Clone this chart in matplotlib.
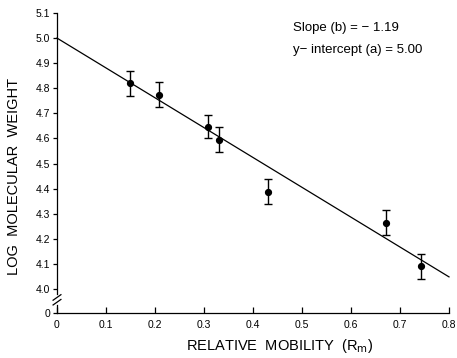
import matplotlib
matplotlib.use("Agg")
import matplotlib.pyplot as plt
import numpy as np

plt.rcParams['font.family'] = ['Liberation Sans', 'DejaVu Sans']

# Data
mobility = [0.149, 0.209, 0.308, 0.331, 0.431, 0.671, 0.742]
log_mw = [4.820, 4.775, 4.647, 4.595, 4.388, 4.264, 4.091]
log_mw_err = [0.050, 0.049, 0.047, 0.051, 0.051, 0.049, 0.050]
slope = -1.19
intercept = 5.00
fit_x = [0.0, 0.8]

xticks = [0, 0.1, 0.2, 0.3, 0.4, 0.5, 0.6, 0.7, 0.8]
xtick_labels = ['0', '0.1', '0.2', '0.3', '0.4', '0.5', '0.6', '0.7', '0.8']
yticks = [4.0, 4.1, 4.2, 4.3, 4.4, 4.5, 4.6, 4.7, 4.8, 4.9, 5.0, 5.1]
ytick_labels = ['4.0', '4.1', '4.2', '4.3', '4.4', '4.5', '4.6', '4.7', '4.8', '4.9', '5.0', '5.1']

# the broken axis: "0" drawn below 4.0
y_zero_pos = 3.904
y_top = 5.1

fig = plt.figure(figsize=(4.57, 3.58), dpi=100)
ax = fig.add_axes([57/457, 45/358, 392/457, (313-13)/358])

ax.set_xlim(0, 0.8)
ax.set_ylim(y_zero_pos, y_top)

fit_y = [intercept + slope * x for x in fit_x]
ax.plot(fit_x, fit_y, color='black', lw=0.9, clip_on=False)
ax.errorbar(mobility, log_mw, yerr=log_mw_err, fmt='o', color='black',
            ms=4.2, elinewidth=1.0, capsize=3, capthick=1.0, clip_on=False)

for s in ['top', 'right']:
    ax.spines[s].set_visible(False)
ax.spines['bottom'].set_linewidth(0.9)
ax.spines['left'].set_linewidth(0.9)
gap_top = 3.978
gap_bot = 3.935
ax.spines['left'].set_bounds(gap_top, y_top)
ax.plot([0, 0], [y_zero_pos, gap_bot], color='black', lw=0.9, clip_on=False)
# break slashes
for yc in [3.966, 3.947]:
    ax.plot([-0.008, 0.008], [yc - 0.011, yc + 0.011], color='black', lw=0.9, clip_on=False)

ax.set_xticks(xticks)
ax.set_xticklabels(xtick_labels)
ax.set_yticks(yticks + [y_zero_pos])
ax.set_yticklabels(ytick_labels + ['0'])
ax.tick_params(axis='x', direction='in', length=4, width=0.9, labelsize=7.5, pad=5)
ax.tick_params(axis='y', direction='out', length=3, width=0.9, labelsize=7.5, pad=2)

fig.text(280/457, (358-346)/358, 'RELATIVE  MOBILITY  (R$_\\mathrm{m}$)', fontsize=10.5,
         ha='center', va='center')
fig.text(14/457, (358-176)/358, 'LOG  MOLECULAR  WEIGHT', fontsize=10.5,
         ha='center', va='center', rotation=90)

fig.text(293/457, (358-31)/358, 'Slope (b) = \u2212 1.19', fontsize=9.5, ha='left', va='baseline')
fig.text(293/457, (358-53)/358, 'y\u2212 intercept (a) = 5.00', fontsize=9.5, ha='left', va='baseline')

fig.savefig('out.png', dpi=100)
